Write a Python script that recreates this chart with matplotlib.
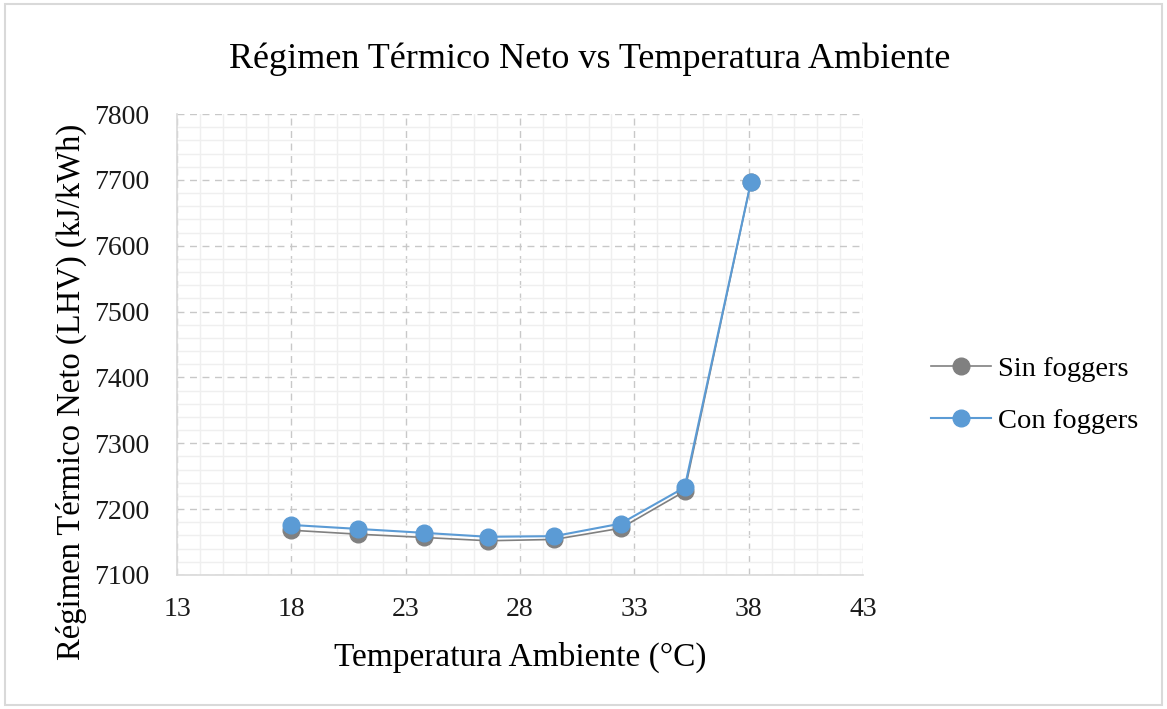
import matplotlib.pyplot as plt
from matplotlib.ticker import MultipleLocator

# Data
temp = [18.0, 20.9, 23.8, 26.6, 29.5, 32.4, 35.2, 38.1]
sin_foggers = [7168, 7162, 7157, 7152, 7154, 7171, 7227, 7697]
con_foggers = [7176, 7170, 7164, 7158, 7159, 7178, 7233, 7697]
x_ticks = [13, 18, 23, 28, 33, 38, 43]

plt.rcParams['font.family'] = ['Liberation Serif', 'DejaVu Serif']

fig = plt.figure(figsize=(11.67, 7.09), dpi=100)
ax = fig.add_axes([0.1517, 0.189, 0.5878, 0.6502])

# light border around the figure
fig.patches.append(plt.Rectangle((0.004, 0.006), 0.992, 0.988, transform=fig.transFigure,
                                 fill=False, edgecolor='#d9d9d9', linewidth=1.5))

ax.plot(temp, sin_foggers, color='#808080', linewidth=1.2, marker='o', markersize=12,
        label='Sin foggers', zorder=3)
ax.plot(temp, con_foggers, color='#5b9bd5', linewidth=1.5, marker='o', markersize=12,
        label='Con foggers', zorder=4)

ax.set_xlim(13, 43)
ax.set_ylim(7100, 7800)
ax.set_xticks(x_ticks)
ax.xaxis.set_minor_locator(MultipleLocator(1))
ax.yaxis.set_major_locator(MultipleLocator(100))
ax.yaxis.set_minor_locator(MultipleLocator(20))

ax.grid(which='minor', color='#efefef', linestyle='-', linewidth=1.0)
ax.grid(which='major', color='#c8c8c8', linestyle=(0, (5, 4)), linewidth=1.0)
ax.set_axisbelow(True)

for s in ['top', 'right']:
    ax.spines[s].set_visible(False)
for s in ['left', 'bottom']:
    ax.spines[s].set_color('#d9d9d9')
    ax.spines[s].set_linewidth(1.2)

ax.tick_params(which='both', length=0, labelsize=20, colors='#1a1a1a')
ax.tick_params(axis='y', pad=20)
ax.tick_params(axis='x', pad=16)

ax.set_xlabel('Temperatura Ambiente (°C)', fontsize=24, labelpad=14)
ax.set_ylabel('Régimen Térmico Neto (LHV) (kJ/kWh)', fontsize=23.5)
ax.yaxis.set_label_coords(-0.131, 0.397)
fig.suptitle('Régimen Térmico Neto vs Temperatura Ambiente', fontsize=26, x=0.505, y=0.94)

ax.legend(loc='center left', bbox_to_anchor=(1.062, 0.39), frameon=False, fontsize=20.5,
          handlelength=2.1, labelspacing=0.9, handletextpad=0.25)

fig.savefig('out.png', dpi=100)
